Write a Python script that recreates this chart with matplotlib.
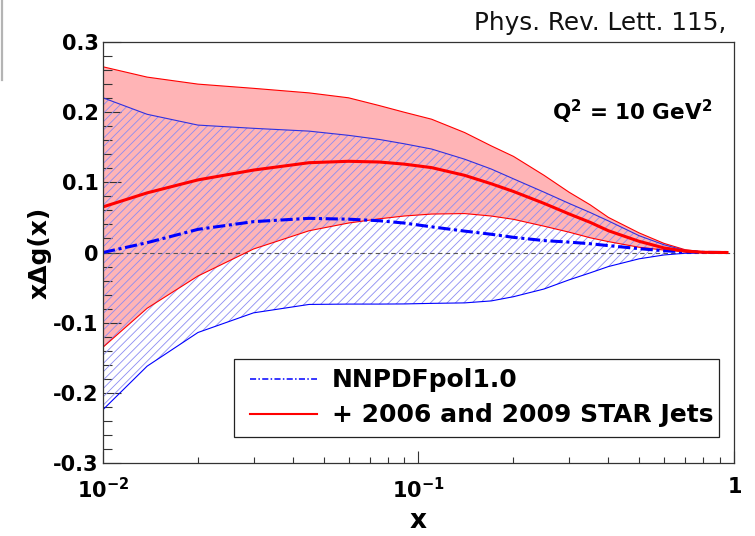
import matplotlib
matplotlib.use("Agg")
import matplotlib.pyplot as plt
from matplotlib.lines import Line2D
from matplotlib.patches import Rectangle
from matplotlib.ticker import FixedLocator, FixedFormatter, NullFormatter

plt.rcParams['font.family'] = ['DejaVu Sans']
plt.rcParams['mathtext.fontset'] = 'dejavusans'
plt.rcParams['hatch.linewidth'] = 0.6

# x grid shared by all curves
x = [0.01, 0.0138, 0.02, 0.03, 0.045, 0.06, 0.075, 0.09, 0.11, 0.14, 0.17,
     0.2, 0.25, 0.3, 0.35, 0.4, 0.5, 0.6, 0.7, 0.8, 0.95]

# NNPDFpol1.0: central value and uncertainty band
nnpdf_central = [0.0, 0.014, 0.033, 0.044, 0.0487, 0.0475, 0.0453, 0.042, 0.0366,
                 0.0305, 0.026, 0.0216, 0.017, 0.0148, 0.0125, 0.0098, 0.0055,
                 0.0025, 0.001, 0.0002, 0.0]
nnpdf_upper = [0.2205, 0.197, 0.1816, 0.177, 0.173, 0.167, 0.1612, 0.155, 0.1475,
               0.133, 0.119, 0.105, 0.086, 0.070, 0.057, 0.045, 0.024, 0.011,
               0.003, 0.0005, 0.0]
nnpdf_lower = [-0.224, -0.162, -0.114, -0.086, -0.074, -0.0735, -0.0735, -0.0733,
               -0.0725, -0.0718, -0.069, -0.063, -0.052, -0.039, -0.029, -0.020,
               -0.009, -0.0035, -0.001, 0.0, 0.0]

# + 2006 and 2009 STAR jets: central value and uncertainty band
star_central = [0.065, 0.085, 0.1035, 0.1175, 0.128, 0.130, 0.129, 0.126, 0.121,
                0.110, 0.098, 0.087, 0.070, 0.055, 0.043, 0.031, 0.016, 0.0065,
                0.002, 0.0003, 0.0]
star_upper = [0.2647, 0.250, 0.240, 0.234, 0.2275, 0.2205, 0.2095, 0.200, 0.190,
              0.171, 0.152, 0.137, 0.110, 0.086, 0.068, 0.050, 0.028, 0.013,
              0.004, 0.001, 0.0]
star_lower = [-0.135, -0.0795, -0.0335, 0.005, 0.031, 0.042, 0.048, 0.052, 0.0548,
              0.0555, 0.052, 0.0473, 0.0375, 0.029, 0.021, 0.0155, 0.0075, 0.0035,
              0.001, 0.0002, 0.0]

legend_labels = ['NNPDFpol1.0', '+ 2006 and 2009 STAR Jets']
y_ticks = [-0.3, -0.2, -0.1, 0.0, 0.1, 0.2, 0.3]
y_ticklabels = ['-0.3', '-0.2', '-0.1', '0', '0.1', '0.2', '0.3']
x_ticks = [0.01, 0.1, 1.0]
x_ticklabels = [r'$\mathbf{10^{-2}}$', r'$\mathbf{10^{-1}}$', r'$\mathbf{1}$']
x_minor = [k * 0.01 for k in range(2, 10)] + [k * 0.1 for k in range(2, 10)]
y_minor = [round(-0.3 + 0.02 * k, 2) for k in range(31)]

RED = '#ff0000'
BLUE = '#0000ff'

fig = plt.figure(figsize=(7.55, 5.36), dpi=100)
ax = fig.add_axes([0.1364, 0.1362, 0.8358, 0.7854])
ax.set_xscale('log')
ax.set_xlim(0.01, 1.0)
ax.set_ylim(-0.3, 0.3)

# STAR band (solid pink fill)
ax.fill_between(x, star_lower, star_upper, facecolor='#ffb4b6', edgecolor='none',
                linewidth=0, zorder=1)
# NNPDF band (blue hatching)
ax.fill_between(x, nnpdf_lower, nnpdf_upper, facecolor='none', edgecolor='#8c8cf2',
                hatch='////', linewidth=0, zorder=2)

# zero line
ax.axhline(0.0, color='#555555', linewidth=0.8, linestyle=(0, (4, 3)), zorder=3)

# band edges
ax.plot(x, star_upper, color=RED, linewidth=0.8, zorder=4)
ax.plot(x, star_lower, color=RED, linewidth=0.8, zorder=4)
ax.plot(x, nnpdf_upper, color='#3030e0', linewidth=0.8, zorder=4)
ax.plot(x, nnpdf_lower, color=BLUE, linewidth=0.8, zorder=4)

# central values
ax.plot(x, nnpdf_central, color=BLUE, linewidth=2.2,
        linestyle=(0, (4, 1.2, 1, 1.2)), zorder=5)
ax.plot(x, star_central, color=RED, linewidth=2.2, zorder=6)

# axes styling
for side in ['left', 'bottom', 'top', 'right']:
    ax.spines[side].set_color('#333333')
    ax.spines[side].set_linewidth(0.9)
    ax.spines[side].set_zorder(10)

ax.yaxis.set_major_locator(FixedLocator(y_ticks))
ax.yaxis.set_major_formatter(FixedFormatter(y_ticklabels))
ax.yaxis.set_minor_locator(FixedLocator(y_minor))
ax.xaxis.set_major_locator(FixedLocator(x_ticks))
ax.xaxis.set_major_formatter(FixedFormatter(x_ticklabels))
ax.xaxis.set_minor_locator(FixedLocator(x_minor))
ax.xaxis.set_minor_formatter(NullFormatter())

ax.tick_params(axis='y', which='major', direction='in', length=12.7, width=0.8,
               color='#333333', labelsize=15, pad=3, right=False)
ax.tick_params(axis='y', which='minor', direction='in', length=6.3, width=0.8,
               color='#333333', right=False)
ax.tick_params(axis='x', which='major', direction='in', length=8.9, width=0.8,
               color='#333333', labelsize=15, pad=10, top=False)
ax.tick_params(axis='x', which='minor', direction='in', length=4.1, width=0.8,
               color='#333333', top=False)
for lab in ax.get_yticklabels():
    lab.set_fontweight('bold')

ax.set_ylabel('x\u0394g(x)', fontsize=18, fontweight='bold')
ax.yaxis.set_label_coords(-0.081, 0.5)
ax.set_xlabel('x', fontsize=19, fontweight='bold')
ax.xaxis.set_label_coords(0.5, -0.106)

ax.text(0.965, 0.834, r'Q$^{\mathbf{2}}$ = 10 GeV$^{\mathbf{2}}$', transform=ax.transAxes,
        ha='right', va='center', fontsize=15.5, fontweight='bold', zorder=12)

# legend frame and entries
ax.add_patch(Rectangle((0.2076, 0.0618), 0.7684, 0.1852, transform=ax.transAxes,
                       facecolor='white', edgecolor='#222222', linewidth=0.9, zorder=11))
handles = [Line2D([], [], color=BLUE, linewidth=1.1, linestyle=(0, (4, 1.5, 1, 1.5))),
           Line2D([], [], color=RED, linewidth=1.5)]
leg = ax.legend(handles, legend_labels, loc='center left',
                bbox_to_anchor=(0.233, 0.1544), frameon=False, borderpad=0,
                borderaxespad=0, handlelength=2.68, handletextpad=0.59,
                labelspacing=0.44, prop={'size': 18, 'weight': 'bold'})
leg.set_zorder(12)

# header text and page edge mark
fig.text(0.9616, 0.944, 'Phys. Rev. Lett. 115,', ha='right', va='baseline',
         fontsize=17.8, color='#111111')
fig.add_artist(Line2D([1.5 / 755, 1.5 / 755], [1.0, 1 - 80 / 536],
                      transform=fig.transFigure, color='#b4b4b4', linewidth=1.6))

fig.savefig('out.png', dpi=100)
